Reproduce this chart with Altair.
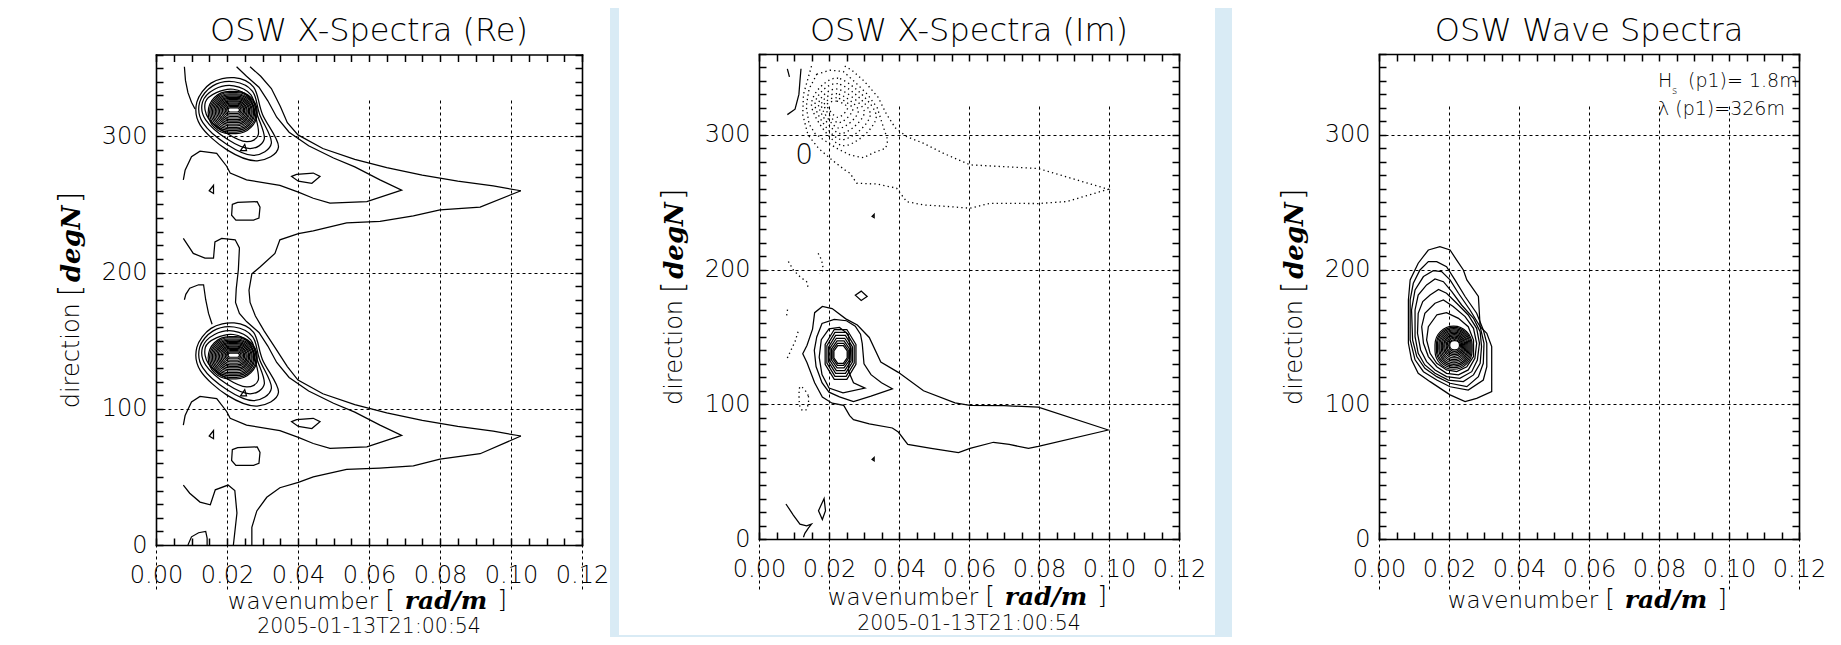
import altair as alt
import pandas as pd

# ------------------------------------------------------------------ texts / ticks
PANEL_TITLES = ["OSW X-Spectra (Re)", "OSW X-Spectra (Im)", "OSW Wave Spectra"]
DATE_TEXT = "2005-01-13T21:00:54"
X_TITLE_WORD = "wavenumber"
X_TITLE_UNIT = "rad/m"
Y_TITLE_WORD = "direction"
Y_TITLE_UNIT = "degN"
X_LABELS = [0.0, 0.02, 0.04, 0.06, 0.08, 0.10, 0.12]
Y_LABELS = [0, 100, 200, 300]
X_TICKS = [0.0, 0.005, 0.01, 0.015, 0.02, 0.025, 0.03, 0.035, 0.04, 0.045, 0.05,
           0.055, 0.06, 0.065, 0.07, 0.075, 0.08, 0.085, 0.09, 0.095, 0.10, 0.105,
           0.11, 0.115, 0.12]
Y_TICKS = [0, 10, 20, 30, 40, 50, 60, 70, 80, 90, 100, 110, 120, 130, 140, 150, 160,
           170, 180, 190, 200, 210, 220, 230, 240, 250, 260, 270, 280, 290, 300, 310,
           320, 330, 340, 350, 360]
HS_MAIN = "H"
HS_SUB = "s"
HS_REST = "(p1)= 1.8m"
WL_TEXT = "\u03bb (p1)=326m"
IM_ZERO_K = [0.0129]
IM_ZERO_D = [284]
IM_ZERO_T = ["0"]

# ------------------------------------------------------------------ Re panel (k [rad/m], dir [deg])
RE_OPEN = [
    [(0.0265, 351), (0.0295, 344), (0.0325, 335), (0.0350, 322), (0.0370, 310), (0.0400, 301),
     (0.0470, 291), (0.0560, 283), (0.0650, 277), (0.0750, 271.5), (0.0850, 267), (0.0950, 263.5),
     (0.1028, 260)],
    [(0.1028, 260), (0.0913, 248), (0.0800, 246), (0.0725, 241.5), (0.0631, 237.5), (0.0537, 236.5),
     (0.0443, 230.5), (0.0401, 228.5), (0.0349, 224), (0.0335, 214), (0.0293, 204), (0.0270, 199),
     (0.0262, 187), (0.0265, 178), (0.0280, 168), (0.0305, 157), (0.0335, 145), (0.0370, 131),
     (0.0400, 121), (0.0470, 111), (0.0560, 103), (0.0650, 97), (0.0750, 91.5), (0.0850, 87),
     (0.0950, 83.5), (0.1028, 80)],
    [(0.0227, 351), (0.0255, 344), (0.0290, 336), (0.0315, 326), (0.0340, 314), (0.0375, 303),
     (0.0430, 293), (0.0500, 284), (0.0560, 277.5), (0.0631, 268), (0.0692, 260.5), (0.0594, 252),
     (0.0490, 251), (0.0443, 254.5), (0.0401, 259), (0.0349, 264), (0.0255, 268), (0.0209, 273),
     (0.0199, 278), (0.0171, 287.5), (0.0124, 289), (0.0100, 285), (0.0082, 275), (0.0077, 268)],
    [(0.0080, 351), (0.0083, 341), (0.0090, 332), (0.0100, 325), (0.0110, 320)],
    [(0.0077, 225), (0.0105, 214), (0.0138, 210.5), (0.0162, 210.5), (0.0166, 222.5), (0.0185, 225),
     (0.0223, 224), (0.0235, 218), (0.0232, 202), (0.0226, 188), (0.0224, 178), (0.0235, 170),
     (0.0255, 164), (0.0290, 156), (0.0315, 146), (0.0340, 134), (0.0375, 123), (0.0430, 113),
     (0.0500, 104), (0.0560, 97.5), (0.0631, 88), (0.0692, 80.5), (0.0594, 72), (0.0490, 71),
     (0.0443, 74.5), (0.0401, 79), (0.0349, 84), (0.0255, 88), (0.0209, 93), (0.0199, 98),
     (0.0171, 107.5), (0.0124, 109), (0.0100, 105), (0.0082, 95), (0.0077, 88)],
    [(0.0080, 180), (0.0084, 184), (0.0095, 188.5), (0.0120, 191), (0.0134, 191), (0.0140, 180),
     (0.0148, 170), (0.0158, 162)],
    [(0.0077, 44), (0.0095, 38), (0.0124, 31.5), (0.0153, 29.5), (0.0167, 40.5), (0.0203, 44),
     (0.0222, 40), (0.0228, 23.5), (0.0218, 0)],
    [(0.0090, 0), (0.0100, 6), (0.0120, 9), (0.0140, 10), (0.0144, 5), (0.0144, 0)],
    [(0.1028, 80), (0.0913, 67), (0.0800, 63), (0.0725, 58), (0.0630, 56.5), (0.0537, 55.5),
     (0.0443, 50), (0.0401, 46), (0.0349, 42), (0.0312, 35), (0.0284, 25), (0.0270, 13), (0.0270, 0)],
]
RE_CLOSED = [
    [(0.0382, 270.5), (0.0396, 272), (0.0443, 273), (0.0462, 270.5), (0.0439, 265.5), (0.0401, 267)],
    [(0.0215, 250), (0.0230, 251.5), (0.0285, 252), (0.0293, 248), (0.0290, 240), (0.0275, 238.5),
     (0.0225, 238.5), (0.0213, 242)],
    [(0.0150, 260), (0.0162, 264), (0.0162, 258)],
    [(0.0238, 289.5), (0.0255, 289.5), (0.0250, 294)],
    [(0.0382, 90.5), (0.0396, 92), (0.0443, 93), (0.0462, 90.5), (0.0439, 85.5), (0.0401, 87)],
    [(0.0215, 70), (0.0230, 71.5), (0.0285, 72), (0.0293, 68), (0.0290, 60), (0.0275, 58.5),
     (0.0225, 58.5), (0.0213, 62)],
    [(0.0150, 80), (0.0162, 84), (0.0162, 78)],
    [(0.0238, 109.5), (0.0255, 109.5), (0.0250, 114)],
]
RE_LOBES = [
    [(0.0345, 292), (0.0285, 282), (0.0200, 290), (0.0125, 308), (0.0115, 325), (0.0155, 339),
     (0.0220, 343), (0.0275, 336), (0.0300, 316)],
    [(0.0325, 295), (0.0275, 286), (0.0200, 294), (0.0132, 310), (0.0123, 325), (0.0160, 337),
     (0.0220, 340), (0.0272, 333), (0.0292, 316)],
    [(0.0305, 298), (0.0265, 291), (0.0200, 298), (0.0140, 312), (0.0131, 325), (0.0165, 334.5),
     (0.0219, 337), (0.0267, 330.5), (0.0285, 316)],
    [(0.0288, 301), (0.0255, 296), (0.0200, 302), (0.0148, 313), (0.0139, 325), (0.0170, 332),
     (0.0218, 334.5), (0.0262, 328.5), (0.0279, 316)],
    [(0.0345, 112), (0.0285, 102), (0.0200, 110), (0.0125, 128), (0.0115, 145), (0.0155, 159),
     (0.0220, 163), (0.0275, 156), (0.0300, 136)],
    [(0.0325, 115), (0.0275, 106), (0.0200, 114), (0.0132, 130), (0.0123, 145), (0.0160, 157),
     (0.0220, 160), (0.0272, 153), (0.0292, 136)],
    [(0.0305, 118), (0.0265, 111), (0.0200, 118), (0.0140, 132), (0.0131, 145), (0.0165, 154.5),
     (0.0219, 157), (0.0267, 150.5), (0.0285, 136)],
    [(0.0288, 121), (0.0255, 116), (0.0200, 122), (0.0148, 133), (0.0139, 145), (0.0170, 152),
     (0.0218, 154.5), (0.0262, 148.5), (0.0279, 136)],
]
# core rings of the two peaks: (k left, k right, dir bottom, dir top)
RE_CORE = [
    (0.0147, 0.0285, 302.0, 333.0), (0.0151, 0.0282, 303.1, 332.1), (0.0155, 0.0278, 304.3, 331.2),
    (0.0159, 0.0275, 305.4, 330.4), (0.0163, 0.0271, 306.5, 329.5), (0.0167, 0.0268, 307.7, 328.6),
    (0.0171, 0.0264, 308.8, 327.8), (0.0175, 0.0261, 310.0, 326.9), (0.0179, 0.0257, 311.1, 326.0),
    (0.0183, 0.0254, 312.2, 325.2), (0.0187, 0.0250, 313.4, 324.3), (0.0191, 0.0247, 314.5, 323.5),
    (0.0195, 0.0243, 315.6, 322.6), (0.0199, 0.0239, 316.7, 321.7), (0.0203, 0.0235, 317.8, 320.8),
    (0.0147, 0.0285, 122.0, 153.0), (0.0151, 0.0282, 123.1, 152.1), (0.0155, 0.0278, 124.3, 151.2),
    (0.0159, 0.0275, 125.4, 150.4), (0.0163, 0.0271, 126.5, 149.5), (0.0167, 0.0268, 127.7, 148.6),
    (0.0171, 0.0264, 128.8, 147.8), (0.0175, 0.0261, 130.0, 146.9), (0.0179, 0.0257, 131.1, 146.0),
    (0.0183, 0.0254, 132.2, 145.2), (0.0187, 0.0250, 133.4, 144.3), (0.0191, 0.0247, 134.5, 143.5),
    (0.0195, 0.0243, 135.6, 142.6), (0.0199, 0.0239, 136.7, 141.7), (0.0203, 0.0235, 137.8, 140.8),
]

# ------------------------------------------------------------------ Im panel
IM_OPEN = [
    [(0.0120, 349), (0.0117, 340), (0.0114, 330), (0.0103, 319), (0.0081, 315)],
    [(0.0081, 349), (0.0087, 343)],
    [(0.0077, 26), (0.0098, 17.8), (0.0117, 11), (0.0136, 9.7), (0.0150, 11), (0.0141, 8),
     (0.0131, 4.2), (0.0127, 1.3)],
]
IM_CLOSED = [
    [(0.0998, 80.9), (0.0798, 97.8), (0.0700, 99), (0.0603, 99.2), (0.0560, 101), (0.0470, 110),
     (0.0398, 123.7), (0.0348, 131.4), (0.0315, 149.6), (0.0281, 158.8), (0.0248, 163.4),
     (0.0209, 171), (0.0181, 172.6), (0.0159, 168), (0.0153, 155.8), (0.0137, 143.6),
     (0.0125, 137.5), (0.0137, 131), (0.0159, 116), (0.0181, 105.3), (0.0209, 100.8),
     (0.0242, 99.2), (0.0259, 91.6), (0.0270, 88.6), (0.0315, 85.5), (0.0381, 82.4),
     (0.0398, 79.4), (0.0425, 70.2), (0.0492, 67.2), (0.0570, 64.1), (0.0603, 67.2),
     (0.0670, 71.8), (0.0715, 70.2), (0.0770, 67.2), (0.0798, 68.7)],
    [(0.0381, 111.5), (0.0350, 116), (0.0320, 122), (0.0300, 130), (0.0295, 145), (0.0290, 152),
     (0.0275, 158), (0.0250, 162), (0.0215, 163), (0.0180, 160), (0.0165, 150), (0.0158, 140),
     (0.0163, 128), (0.0180, 116), (0.0200, 109), (0.0230, 105.5), (0.0270, 102), (0.0320, 106)],
    [(0.0303, 112), (0.0270, 116), (0.0255, 125), (0.0262, 140), (0.0255, 152), (0.0230, 157),
     (0.0200, 156), (0.0178, 148), (0.0172, 135), (0.0180, 122), (0.0200, 112), (0.0240, 108.5)],
    [(0.0186, 30), (0.0190, 21), (0.0181, 14.5), (0.0170, 21)],
    [(0.0275, 181), (0.0292, 184), (0.0309, 180), (0.0292, 177)],
    [(0.0323, 239.5), (0.0329, 241), (0.0329, 238.5)],
    [(0.0323, 59), (0.0329, 60.5), (0.0329, 58)],
    [(0.0277, 144.4), (0.0251, 155.5), (0.0215, 155.5), (0.0189, 144.4), (0.0189, 129.6),
     (0.0215, 118.5), (0.0251, 118.5), (0.0277, 129.6)],
    [(0.0272, 143.5), (0.0249, 153.3), (0.0217, 153.3), (0.0194, 143.5), (0.0194, 130.5),
     (0.0217, 120.7), (0.0249, 120.7), (0.0272, 130.5)],
    [(0.0267, 142.6), (0.0247, 151.1), (0.0219, 151.1), (0.0199, 142.6), (0.0199, 131.4),
     (0.0219, 122.9), (0.0247, 122.9), (0.0267, 131.4)],
    [(0.0263, 141.8), (0.0245, 149), (0.0221, 149), (0.0203, 141.8), (0.0203, 132.2),
     (0.0221, 125), (0.0245, 125), (0.0263, 132.2)],
    [(0.0259, 141), (0.0243, 147), (0.0223, 147), (0.0207, 141), (0.0207, 133),
     (0.0223, 127), (0.0243, 127), (0.0259, 133)],
    [(0.0255, 140.3), (0.0242, 145.2), (0.0224, 145.2), (0.0211, 140.3), (0.0211, 133.7),
     (0.0224, 128.8), (0.0242, 128.8), (0.0255, 133.7)],
    [(0.0252, 139.6), (0.0241, 143.6), (0.0225, 143.6), (0.0214, 139.6), (0.0214, 134.4),
     (0.0225, 130.4), (0.0241, 130.4), (0.0252, 134.4)],
]
IM_NEG_OPEN = [
    [(0.0150, 351), (0.0127, 330), (0.0125, 315), (0.0140, 300), (0.0170, 290), (0.0210, 281),
     (0.0245, 274), (0.0260, 271.5), (0.0279, 264.1), (0.0336, 263.5), (0.0393, 260.4),
     (0.0422, 250.4), (0.0469, 248), (0.0546, 246.7), (0.0603, 245.5), (0.0660, 249.2),
     (0.0798, 249), (0.0880, 250.5), (0.0998, 259.6), (0.0798, 275), (0.0660, 276.9),
     (0.0603, 277.7), (0.0527, 286.3), (0.0469, 293.8), (0.0422, 298.7), (0.0390, 305),
     (0.0365, 315), (0.0340, 328), (0.0300, 340), (0.0265, 348), (0.0245, 351)],
    [(0.0084, 206), (0.0098, 199.7), (0.0117, 194.7), (0.0136, 191), (0.0141, 186)],
    [(0.0169, 212), (0.0179, 207), (0.0184, 199.7), (0.0174, 197)],
    [(0.0081, 134.4), (0.0103, 146.6), (0.0114, 155.8)],
    [(0.0079, 166), (0.0082, 171)],
]
IM_NEG_CLOSED = [
    [(0.0165, 345), (0.0203, 348), (0.0241, 347), (0.0275, 339), (0.0310, 330), (0.0338, 320),
     (0.0355, 306), (0.0368, 296), (0.0362, 290), (0.0330, 287), (0.0298, 283), (0.0260, 285),
     (0.0222, 290), (0.0186, 296), (0.0160, 301), (0.0143, 308), (0.0135, 321), (0.0143, 334)],
]
IM_NEG_RINGS = [
    [(0.0335, 314), (0.0226, 342), (0.0150, 322), (0.0238, 292)],
    [(0.0318, 315.5), (0.0225, 338), (0.0160, 322), (0.0234, 296.5)],
    [(0.0301, 317), (0.0224, 334), (0.0170, 322), (0.0231, 301)],
    [(0.0284, 318), (0.0223, 330.5), (0.0178, 322), (0.0228, 305)],
    [(0.0268, 319), (0.0222, 327.5), (0.0186, 322), (0.0226, 309)],
    [(0.0253, 320), (0.0222, 325), (0.0194, 322), (0.0224, 313)],
    [(0.0117, 113), (0.0141, 106), (0.0135, 96), (0.0117, 98)],
]

# ------------------------------------------------------------------ wave spectrum panel
WS_CLOSED = [
    [(0.0141, 214.5), (0.0174, 217), (0.0203, 214.5), (0.0222, 207), (0.0241, 199.7), (0.0251, 192.3),
     (0.0284, 180), (0.0289, 157.6), (0.0308, 152.7), (0.0322, 142.8), (0.0322, 109.4),
     (0.0279, 104.4), (0.0246, 102), (0.0203, 107), (0.0146, 116.8), (0.0112, 123), (0.0093, 133),
     (0.0084, 145.3), (0.0084, 177.4), (0.0089, 192.3), (0.0112, 204.7)],
    [(0.0117, 199.7), (0.0141, 205.9), (0.0165, 205.9), (0.0193, 202.1), (0.0217, 192.3),
     (0.0246, 180), (0.0279, 167.6), (0.0298, 155.2), (0.0308, 145.3), (0.0308, 128), (0.0298, 118),
     (0.0255, 110.6), (0.0203, 113), (0.0165, 118), (0.0127, 124.2), (0.0103, 133), (0.0089, 147.7),
     (0.0089, 177.4), (0.0098, 189.8)],
    [(0.0127, 194.8), (0.0155, 199.2), (0.0179, 198.5), (0.0203, 192.3), (0.0227, 182.4),
     (0.0260, 170), (0.0289, 157.6), (0.0300, 145.3), (0.0298, 130.4), (0.0284, 120.5),
     (0.0251, 113.1), (0.0203, 115.6), (0.0165, 120.5), (0.0131, 126.7), (0.0108, 135.4),
     (0.0096, 147.7), (0.0093, 170), (0.0103, 184.9)],
    [(0.0136, 188.6), (0.0160, 193), (0.0184, 191), (0.0208, 183.6), (0.0236, 173.7), (0.0270, 163.8),
     (0.0289, 153.9), (0.0293, 142.8), (0.0289, 130.4), (0.0270, 121.8), (0.0241, 116.8),
     (0.0198, 118), (0.0160, 123), (0.0131, 129.2), (0.0112, 137.8), (0.0103, 150.2), (0.0103, 170),
     (0.0112, 181.1)],
    [(0.0146, 181.1), (0.0170, 185.3), (0.0193, 182.4), (0.0222, 175), (0.0255, 166.3),
     (0.0279, 156.4), (0.0287, 145.3), (0.0281, 132.9), (0.0265, 124.2), (0.0231, 119.3),
     (0.0193, 120.5), (0.0160, 125.5), (0.0136, 131.7), (0.0119, 140.3), (0.0110, 152.7),
     (0.0112, 167.5), (0.0125, 176.2)],
    [(0.0160, 175), (0.0184, 177.4), (0.0212, 172.5), (0.0246, 165.1), (0.0270, 156.4), (0.0279, 145.3),
     (0.0274, 134.1), (0.0255, 125.5), (0.0227, 121.8), (0.0193, 123), (0.0165, 127.9), (0.0141, 135.4),
     (0.0127, 145.3), (0.0122, 157.6), (0.0131, 167.5)],
    [(0.0165, 166.3), (0.0193, 168), (0.0227, 163.8), (0.0255, 157.6), (0.0270, 147.7), (0.0270, 135.4),
     (0.0251, 127.9), (0.0222, 124.2), (0.0193, 125.5), (0.0165, 130.4), (0.0146, 137.8),
     (0.0136, 147.7), (0.0141, 157.6)],
]
WS_CORE = [
    (0.0160, 0.0266, 126.0, 158.0), (0.0164, 0.0263, 127.2, 157.1), (0.0167, 0.0260, 128.4, 156.2),
    (0.0171, 0.0257, 129.6, 155.3), (0.0174, 0.0254, 130.8, 154.4), (0.0178, 0.0251, 132.0, 153.5),
    (0.0181, 0.0248, 133.2, 152.6), (0.0185, 0.0245, 134.4, 151.7), (0.0188, 0.0242, 135.6, 150.8),
    (0.0192, 0.0239, 136.8, 149.9), (0.0195, 0.0236, 138.0, 149.0), (0.0199, 0.0233, 139.2, 148.1),
    (0.0202, 0.0230, 140.4, 147.2),
]

# ------------------------------------------------------------------ layout (canvas px)
W, H = 1825, 629
BG = "#d9ebf5"
FONT = "DejaVu Sans"
WEIGHT = 200
SERIF = "DejaVu Serif"
PANELS = [dict(L=148, R=574, T=46.5, B=537), dict(L=751, R=1171, T=46, B=531),
          dict(L=1371, R=1791, T=46, B=531)]
SHEETS = [(-1, 602, -1, 634), (611, 1207, -2, 627), (1224, 1826, -1, 634)]
XTITLE_Y = [601, 597, 600]
DATE_Y = [625, 621.5, None]

ONE = pd.DataFrame({"v": [0]})
ORIGIN = pd.DataFrame({"k": [0.0], "d": [0.0]})


def to_df(lines):
    rows = []
    for i, pts in enumerate(lines):
        for j, (k, d) in enumerate(pts):
            rows.append({"id": i, "o": j, "k": k, "d": d})
    return pd.DataFrame(rows)


def scales(P):
    return (alt.Scale(domain=[0, 0.12], range=[P["L"], P["R"]], nice=False, zero=False),
            alt.Scale(domain=[0, 360], range=[P["B"], P["T"]], nice=False, zero=False))


def axis_layer(P, ax, ay):
    xs, ys = scales(P)
    return alt.Chart(ORIGIN).mark_point(opacity=0).encode(
        x=alt.X("k:Q", scale=xs, axis=ax), y=alt.Y("d:Q", scale=ys, axis=ay))


def line_layer(P, lines, interpolate="linear", dash=None, width=1.25):
    xs, ys = scales(P)
    kw = dict(color="black", strokeWidth=width, interpolate=interpolate)
    if dash:
        kw["strokeDash"] = dash
    return alt.Chart(to_df(lines)).mark_line(**kw).encode(
        x=alt.X("k:Q", scale=xs, axis=None), y=alt.Y("d:Q", scale=ys, axis=None),
        detail="id:N", order="o:Q")


def ring_layer(P, rings, width=1.2):
    """closed rounded rings given by their extent in (k, dir)"""
    xs, ys = scales(P)
    df = pd.DataFrame(rings, columns=["k0", "k1", "d0", "d1"])
    return alt.Chart(df).mark_rect(filled=False, color="black", strokeWidth=width,
                                   cornerRadius=500).encode(
        x=alt.X("k0:Q", scale=xs, axis=None), x2="k1:Q",
        y=alt.Y("d0:Q", scale=ys, axis=None), y2="d1:Q")


def text_layer(s, x, y, size, font=FONT, weight=WEIGHT, style="normal", angle=0,
               align="center", baseline="alphabetic"):
    return alt.Chart(ONE).mark_text(
        text=s, font=font, fontSize=size, fontWeight=weight, fontStyle=style, angle=angle,
        align=align, baseline=baseline, color="black").encode(x=alt.value(x), y=alt.value(y))


def frame_layers(P):
    lab = dict(labelFont=FONT, labelFontSize=24, labelFontWeight=WEIGHT, labelColor="black",
               labelFlush=False, labelOverlap=False, labelBound=False, title=None, zindex=1,
               grid=True, gridColor="black", gridDash=[3, 3], gridWidth=1, gridOpacity=1,
               ticks=False, tickSize=0, domain=False)
    ax = alt.Axis(orient="bottom", offset=P["B"] - H, values=X_LABELS, format=".2f",
                  labelPadding=18, **lab)
    ay = alt.Axis(orient="left", offset=-P["L"], values=Y_LABELS, format="d",
                  labelPadding=9, **lab)
    tk = dict(labels=False, ticks=True, tickSize=7, tickWidth=1.5, tickColor="black",
              domain=True, domainColor="black", domainWidth=1.6, domainCap="square",
              grid=False, title=None, zindex=2)
    ax1 = alt.Axis(orient="top", offset=-P["B"], values=X_TICKS, **tk)
    ay1 = alt.Axis(orient="right", offset=P["L"] - W, values=Y_TICKS, **tk)
    ax2 = alt.Axis(orient="bottom", offset=P["T"] - H, values=X_TICKS, **tk)
    ay2 = alt.Axis(orient="left", offset=-P["R"], values=Y_TICKS, **tk)
    return [axis_layer(P, ax, ay), axis_layer(P, ax1, ay1), axis_layer(P, ax2, ay2)]


def title_layers(i):
    P = PANELS[i]
    cx = (P["L"] + P["R"]) / 2
    cy = (P["T"] + P["B"]) / 2
    yx = P["L"] - 84
    ty = XTITLE_Y[i]
    out = [
        text_layer(PANEL_TITLES[i], cx, 33, 32),
        text_layer(X_TITLE_WORD, cx - 66, ty, 23),
        text_layer("[", cx + 21, ty - 1, 25),
        text_layer(X_TITLE_UNIT, cx + 77, ty, 25, font=SERIF, weight="bold", style="italic"),
        text_layer("]", cx + 133, ty - 1, 25),
        text_layer(Y_TITLE_WORD, yx, cy + 56, 24, angle=270, baseline="middle"),
        text_layer("[", yx - 1, cy - 9, 30, angle=270, baseline="middle"),
        text_layer(Y_TITLE_UNIT, yx, cy - 56, 26, font=SERIF, weight="bold", style="italic",
                   angle=270, baseline="middle"),
        text_layer("]", yx - 1, cy - 102, 30, angle=270, baseline="middle"),
    ]
    if DATE_Y[i] is not None:
        out.append(text_layer(DATE_TEXT, cx, DATE_Y[i], 20.5))
    return out


layers = []
for (x0, x1, y0, y1) in SHEETS:
    layers.append(alt.Chart(ONE).mark_rect(color="white").encode(
        x=alt.value(x0), x2=alt.value(x1), y=alt.value(y0), y2=alt.value(y1)))

# panel 1 : real part of the cross spectrum
P = PANELS[0]
layers += [line_layer(P, RE_OPEN), line_layer(P, RE_CLOSED, "linear-closed"),
           line_layer(P, RE_LOBES, "cardinal-closed"), ring_layer(P, RE_CORE)]
layers += frame_layers(P) + title_layers(0)

# panel 2 : imaginary part (dotted = negative levels)
P = PANELS[1]
layers += [line_layer(P, IM_OPEN), line_layer(P, IM_CLOSED, "linear-closed"),
           line_layer(P, IM_NEG_OPEN, dash=[1.3, 3.2], width=1.3),
           line_layer(P, IM_NEG_CLOSED, "linear-closed", dash=[1.3, 3.2], width=1.3),
           line_layer(P, IM_NEG_RINGS, "cardinal-closed", dash=[1.3, 3.2], width=1.3)]
xs2, ys2 = scales(P)
layers.append(alt.Chart(pd.DataFrame({"k": IM_ZERO_K, "d": IM_ZERO_D, "t": IM_ZERO_T}))
              .mark_text(font=FONT, fontSize=28, fontWeight=WEIGHT, color="black", baseline="middle")
              .encode(x=alt.X("k:Q", scale=xs2, axis=None), y=alt.Y("d:Q", scale=ys2, axis=None),
                      text="t:N"))
layers += frame_layers(P) + title_layers(1)

# panel 3 : wave spectrum
P = PANELS[2]
layers += [line_layer(P, WS_CLOSED, "linear-closed"), ring_layer(P, WS_CORE)]
layers += frame_layers(P) + title_layers(2)
layers += [
    text_layer(HS_MAIN, 1650, 79, 19, align="left"),
    text_layer(HS_SUB, 1664, 86, 10, align="left"),
    text_layer(HS_REST, 1680, 79, 19, align="left"),
    text_layer(WL_TEXT, 1650, 107, 19, align="left"),
]

chart = (alt.layer(*layers)
         .resolve_scale(x="independent", y="independent")
         .properties(width=W, height=H, padding=0, autosize=alt.AutoSizeParams(type="none"))
         .configure(background=BG)
         .configure_view(stroke=None))

chart.save("out.html", embed_options={"renderer": "svg", "actions": False})
